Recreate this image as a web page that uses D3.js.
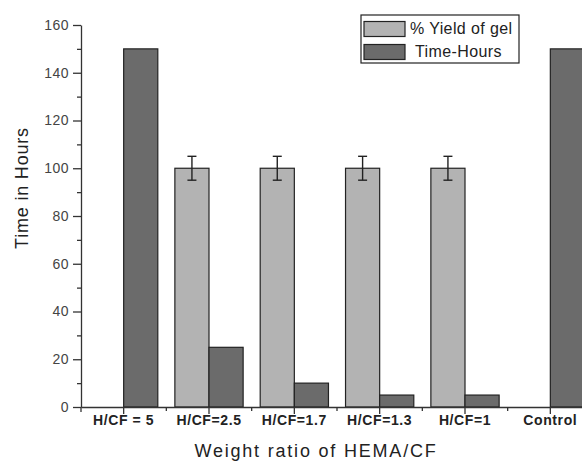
<!DOCTYPE html>
<html><head><meta charset="utf-8">
<script src="https://cdn.jsdelivr.net/npm/d3@7"></script>
<style>body{margin:0;background:#fff}svg{display:block}</style>
</head><body>
<svg id="c" width="582" height="464"></svg>
<script>
const categories = ["H/CF = 5","H/CF=2.5","H/CF=1.7","H/CF=1.3","H/CF=1","Control"];
const yieldGel = [null,100,100,100,100,null];
const yieldErr = [null,5,5,5,5,null];
const timeHours = [150,25,10,5,5,150];
const seriesNames = ["% Yield of gel","Time-Hours"];
const yMajorTicks = [0,20,40,60,80,100,120,140,160];
const yMinorTicks = [10,30,50,70,90,110,130,150];

const svg = d3.select("#c");
const mLeft = 81, mRight = 593, mTop = 25, mBottom = 407;
const x = d3.scaleBand().domain(categories).range([mLeft,mRight]).padding(0);
const bw = x.bandwidth();
const sub = d3.scaleBand().domain(seriesNames).range([0.1*bw,0.9*bw]).padding(0);
const y = d3.scaleLinear().domain([0,160]).range([mBottom,mTop]);
const colors = ["#b3b3b3","#6b6b6b"];
const font = "'Liberation Sans', Arial, sans-serif";

// bars
categories.forEach((c,i)=>{
  const vals=[yieldGel[i],timeHours[i]];
  vals.forEach((v,j)=>{
    if(v==null) return;
    svg.append("rect")
      .attr("x",x(c)+sub(seriesNames[j]))
      .attr("y",y(v))
      .attr("width",sub.bandwidth())
      .attr("height",y(0)-y(v))
      .attr("fill",colors[j])
      .attr("stroke","#222").attr("stroke-width",1.2);
  });
  if(yieldGel[i]!=null){
    const cx=x(c)+sub(seriesNames[0])+sub.bandwidth()/2;
    const g=svg.append("g").attr("stroke","#222").attr("stroke-width",1.4);
    g.append("line").attr("x1",cx).attr("x2",cx).attr("y1",y(yieldGel[i]+yieldErr[i])).attr("y2",y(yieldGel[i]-yieldErr[i]));
    [yieldGel[i]+yieldErr[i],yieldGel[i]-yieldErr[i]].forEach(v=>{
      g.append("line").attr("x1",cx-4.5).attr("x2",cx+4.5).attr("y1",y(v)).attr("y2",y(v));
    });
  }
});

// y axis
const ya = svg.append("g").attr("transform",`translate(${mLeft},0)`)
  .call(d3.axisLeft(y).tickValues(yMajorTicks).tickSize(8).tickPadding(4).tickSizeOuter(0));
ya.selectAll("text").attr("font-family",font).attr("font-size",14).attr("letter-spacing",0.5).attr("fill","#444");
svg.append("g").attr("transform",`translate(${mLeft},0)`)
  .call(d3.axisLeft(y).tickValues(yMinorTicks).tickSize(4).tickFormat("").tickSizeOuter(0))
  .select(".domain").remove();
svg.selectAll(".domain").attr("stroke","#333").attr("stroke-width",1.3);
svg.selectAll(".tick line").attr("stroke","#333").attr("stroke-width",1.3);
svg.append("line").attr("x1",mLeft).attr("x2",mLeft).attr("y1",mBottom).attr("y2",mBottom+5).attr("stroke","#333").attr("stroke-width",1.3);

// x axis
const xa = svg.append("g").attr("transform",`translate(0,${mBottom})`)
  .call(d3.axisBottom(x).tickSize(7).tickPadding(1).tickSizeOuter(0));
xa.select(".domain").attr("stroke","#333").attr("stroke-width",1.3);
xa.selectAll(".tick line").attr("stroke","#333").attr("stroke-width",1.3);
xa.selectAll("text").attr("font-family",font).attr("font-size",14).attr("letter-spacing",0.6).attr("font-weight","bold").attr("fill","#222");
const minorX = categories.slice(1).map(c=>x(c)).concat([x(categories[categories.length-1])+bw]);
svg.append("g").selectAll("line").data(minorX).join("line")
  .attr("x1",d=>d).attr("x2",d=>d).attr("y1",mBottom).attr("y2",mBottom+4)
  .attr("stroke","#333").attr("stroke-width",1.3);

// axis titles
svg.append("text").attr("transform","translate(28,188) rotate(-90)")
  .attr("text-anchor","middle").attr("font-family",font).attr("font-size",18).attr("letter-spacing",0.8).attr("fill","#222")
  .text("Time in Hours");
svg.append("text").attr("x",316).attr("y",457)
  .attr("text-anchor","middle").attr("font-family",font).attr("font-size",18).attr("letter-spacing",1.8).attr("fill","#222")
  .text("Weight ratio of HEMA/CF");

// legend
const lg = svg.append("g");
lg.append("rect").attr("x",361).attr("y",15).attr("width",158).attr("height",48)
  .attr("fill","#fff").attr("stroke","#222").attr("stroke-width",1.2);
seriesNames.forEach((s,i)=>{
  lg.append("rect").attr("x",364).attr("y",21.5+i*23).attr("width",41).attr("height",15)
    .attr("fill",colors[i]).attr("stroke","#222").attr("stroke-width",1.2);
  lg.append("text").attr("x",i===0?410:415).attr("y",34+i*23)
    .attr("font-family",font).attr("font-size",16).attr("letter-spacing",0.4).attr("fill","#222").text(s);
});
</script>
</body></html>
